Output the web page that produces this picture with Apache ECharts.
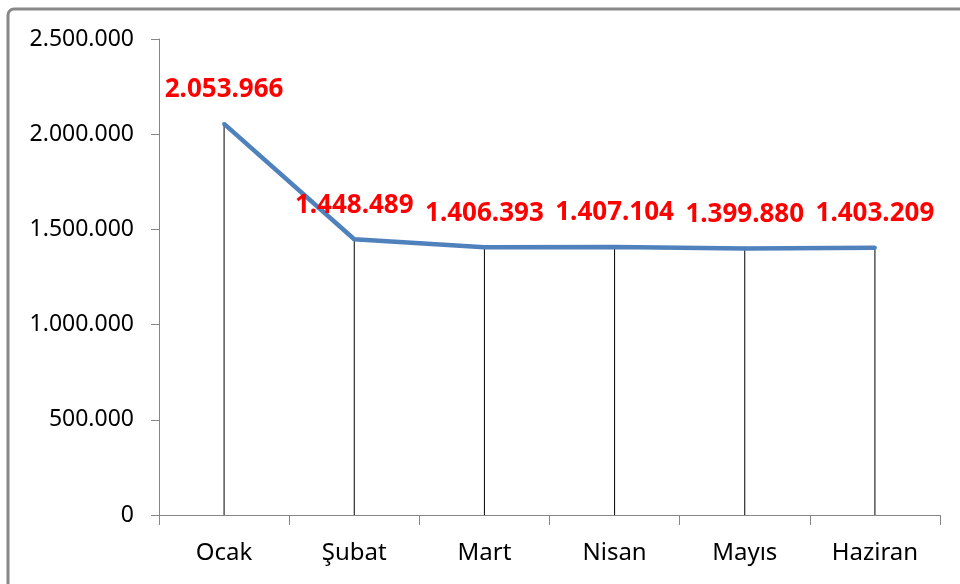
<!DOCTYPE html>
<html>
<head>
<meta charset="utf-8">
<script src="https://cdn.jsdelivr.net/npm/echarts@6/dist/echarts.min.js"></script>
<style>
  html, body { margin: 0; padding: 0; background: #fff; }
  #chart { width: 960px; height: 584px; }
</style>
</head>
<body>
<div id="chart"></div>
<script>
"use strict";

/*****Data*****/
var months = ['Ocak', 'Şubat', 'Mart', 'Nisan', 'Mayıs', 'Haziran'];
var values = [2053966, 1448489, 1406393, 1407104, 1399880, 1403209];
var yMin = 0, yMax = 2500000, yStep = 500000;

// 1234567 -> "1.234.567"
var fmtDots = function (v) {
	return String(Math.round(v)).replace(/\B(?=(\d{3})+(?!\d))/g, '.');
};

var chart = echarts.init(document.getElementById('chart'));
var option = {
	animation: false,
	backgroundColor: '#fff',
	graphic: [{
		type: 'rect',
		shape: { x: 8, y: 9, width: 1000, height: 640, r: 6 },
		style: { fill: 'none', stroke: '#888', lineWidth: 3 },
		z: 100
	}],
	grid: {
		left: 159,
		right: 20,
		top: 39,
		bottom: 69
	},
	xAxis: {
		type: 'category',
		data: months,
		boundaryGap: true,
		axisLine: { lineStyle: { color: '#868686', width: 1 } },
		axisTick: { show: true, length: 10, interval: 0, lineStyle: { color: '#868686' } },
		axisLabel: {
			margin: 26,
			color: '#000',
			fontSize: 24,
			fontFamily: "'Noto Sans', sans-serif"
		},
		splitLine: { show: false }
	},
	yAxis: {
		type: 'value',
		min: yMin,
		max: yMax,
		interval: yStep,
		axisLine: { show: true, lineStyle: { color: '#868686', width: 1 } },
		axisTick: { show: true, length: 8, lineStyle: { color: '#868686' } },
		axisLabel: {
			margin: 25,
			color: '#000',
			fontSize: 23,
			fontFamily: "'Noto Sans', sans-serif",
			formatter: fmtDots
		},
		splitLine: { show: false }
	},
	series: [
		{
			// drop lines from each point to the axis
			type: 'bar',
			data: values,
			barWidth: 1,
			itemStyle: { color: '#000' },
			silent: true,
			z: 1
		},
		{
			type: 'line',
			data: values,
			showSymbol: true,
			symbol: 'circle',
			symbolSize: 4,
			itemStyle: { color: '#4f81bd' },
			lineStyle: { color: '#4f81bd', width: 4.5 },
			label: {
				show: true,
				position: 'top',
				distance: 19,
				color: '#ff0000',
				fontSize: 26,
				fontWeight: 'bold',
				fontFamily: "'Noto Sans', sans-serif",
				formatter: function (p) { return fmtDots(p.value); }
			},
			z: 3
		}
	]
};
chart.setOption(option);
</script>
</body>
</html>
